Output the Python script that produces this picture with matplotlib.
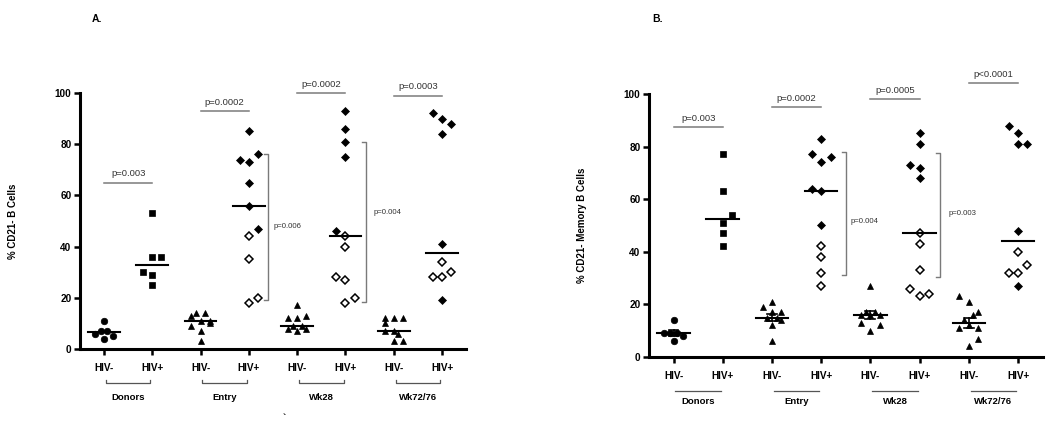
import numpy as np
import matplotlib
matplotlib.use("Agg")
import matplotlib.pyplot as plt
from matplotlib.transforms import blended_transform_factory

plt.rcParams['font.family'] = ['Liberation Sans', 'DejaVu Sans']

# ---------------- data ----------------
tick_labels = ["HIV-", "HIV+", "HIV-", "HIV+", "HIV-", "HIV+", "HIV-", "HIV+"]
group_labels = ["Donors", "Entry", "Wk28", "Wk72/76"]

# Panel A: % CD21- B cells
A_donor_neg = [11, 6, 7, 7, 4, 5]
A_donor_neg_jit = [0, -1, -0.35, 0.35, 0, 1]
A_donor_pos = [53, 36, 36, 30, 29, 25]
A_donor_pos_jit = [0, 0, 1, -1, 0, 0]
A_entry_neg = [13, 14, 14, 9, 11, 10, 11, 7, 3]
A_entry_neg_jit = [-1, -0.5, 0.5, -1, 0, 1, 1, 0, 0]
A_entry_pos = [85, 76, 74, 73, 65, 56, 47, 44, 35, 18, 20]
A_entry_pos_fill = [1, 1, 1, 1, 1, 1, 1, 0, 0, 0, 0]
A_entry_pos_jit = [0, 1, -1, 0, 0, 0, 1, 0, 0, 0, 1]
A_wk28_neg = [17, 12, 12, 13, 8, 9, 9, 8, 7]
A_wk28_neg_jit = [0, -1, 0, 1, -1, -0.5, 0.5, 1, 0]
A_wk28_pos = [93, 86, 81, 75, 46, 44, 40, 28, 27, 18, 20]
A_wk28_pos_fill = [1, 1, 1, 1, 1, 0, 0, 0, 0, 0, 0]
A_wk28_pos_jit = [0, 0, 0, 0, -1, 0, 0, -1, 0, 0, 1]
A_wk72_neg = [12, 10, 12, 12, 7, 7, 6, 3, 3]
A_wk72_neg_jit = [-1, -1, 0, 1, -1, 0, 0.5, 0, 1]
A_wk72_pos = [92, 90, 88, 84, 41, 34, 30, 28, 28, 19]
A_wk72_pos_fill = [1, 1, 1, 1, 1, 0, 0, 0, 0, 1]
A_wk72_pos_jit = [-1, 0, 1, 0, 0, 0, 1, -1, 0, 0]

A_p_labels = ["p=0.003", "p=0.0002", "p=0.0002", "p=0.0003"]
A_p_heights = [65, 93, 100, 99]
A_inner_labels = ["p=0.006", "p=0.004"]
A_inner_ranges = [(19, 76), (18.5, 81)]

# Panel B: % CD21- memory B cells
B_donor_neg = [14, 9, 9, 9, 8, 6]
B_donor_neg_jit = [0, -1, -0.35, 0.35, 1, 0]
B_donor_pos = [77, 63, 54, 51, 47, 42]
B_donor_pos_jit = [0, 0, 1, 0, 0, 0]
B_entry_neg = [21, 19, 17, 17, 15, 15, 14, 12, 6]
B_entry_neg_jit = [0, -1, 0, 1, -0.5, 0.5, 1, 0, 0]
B_entry_pos = [83, 77, 76, 74, 64, 63, 50, 42, 38, 32, 27]
B_entry_pos_fill = [1, 1, 1, 1, 1, 1, 1, 0, 0, 0, 0]
B_entry_pos_jit = [0, -1, 1, 0, -1, 0, 0, 0, 0, 0, 0]
B_wk28_neg = [27, 17, 17, 16, 16, 16, 13, 12, 10]
B_wk28_neg_jit = [0, -0.5, 0.5, -1, 0, 1, -1, 1, 0]
B_wk28_pos = [85, 81, 73, 72, 68, 47, 43, 33, 26, 23, 24]
B_wk28_pos_fill = [1, 1, 1, 1, 1, 0, 0, 0, 0, 0, 0]
B_wk28_pos_jit = [0, 0, -1, 0, 0, 0, 0, 0, -1, 0, 1]
B_wk72_neg = [23, 21, 17, 16, 14, 11, 12, 11, 7, 4]
B_wk72_neg_jit = [-1, 0, 1, 0.5, -0.5, -1, 0, 1, 1, 0]
B_wk72_pos = [88, 85, 81, 81, 48, 40, 32, 32, 35, 27]
B_wk72_pos_fill = [1, 1, 1, 1, 1, 0, 0, 0, 0, 1]
B_wk72_pos_jit = [-1, 0, 0, 1, 0, 0, -1, 0, 1, 0]

B_p_labels = ["p=0.003", "p=0.0002", "p=0.0005", "p<0.0001"]
B_p_heights = [87.5, 95, 98, 104]
B_inner_labels = ["p=0.004", "p=0.003"]
B_inner_ranges = [(31, 78), (30.5, 77.5)]

# ---------------- drawing ----------------
fig = plt.figure(figsize=(10.5, 4.28), dpi=100)
axA = fig.add_axes([0.076, 0.1846, 0.368, 0.5982])
axB = fig.add_axes([0.618, 0.166, 0.375, 0.6145])

JIT = 0.19
GREY = "#7a7a7a"


def scatter_group(ax, pos, vals, jit, marker, ms, fills=None, errbar=False):
    vals = np.asarray(vals, float)
    xs = pos + np.asarray(jit, float) * JIT
    if fills is None:
        fills = [1] * len(vals)
    for x, v, f in zip(xs, vals, fills):
        ax.plot(x, v, marker=marker, ms=ms, mec="black",
                mfc="black" if f else "white", mew=1.1 if not f else 0.5,
                ls="none", clip_on=False, zorder=3)
    med = np.median(vals)
    ax.plot([pos - 0.33, pos + 0.33], [med, med], color="black", lw=1.5,
            zorder=4, clip_on=False)
    if errbar:
        sem = np.std(vals, ddof=1) / np.sqrt(len(vals))
        ax.plot([pos, pos], [med - sem, med + sem], color="black", lw=1.2, zorder=4)
        for yy in (med - sem, med + sem):
            ax.plot([pos - 0.1, pos + 0.1], [yy, yy], color="black", lw=1.2, zorder=4)


def style_axes(ax, ylabel, labelx, bracket_y, group_y, bracket_ends):
    ax.set_xlim(0.5, 8.5)
    ax.set_ylim(0, 100)
    for s in ("top", "right"):
        ax.spines[s].set_visible(False)
    for s in ("left", "bottom"):
        ax.spines[s].set_linewidth(2.2)
    ax.set_yticks([0, 20, 40, 60, 80, 100])
    ax.set_xticks(range(1, 9))
    ax.set_xticklabels(tick_labels)
    ax.tick_params(axis="both", direction="out", length=4, width=1.8,
                   labelsize=7.2, pad=2)
    for lab in ax.get_xticklabels() + ax.get_yticklabels():
        lab.set_fontweight("bold")
    ax.tick_params(axis="x", pad=6)
    ax.set_ylabel(ylabel, fontsize=7, fontweight="bold")
    ax.yaxis.set_label_coords(labelx, 0.5)
    tr = blended_transform_factory(ax.transData, ax.transAxes)
    for i, g in enumerate(group_labels):
        x0 = 2 * i + 1 + 0.04
        x1 = 2 * i + 2 - 0.04
        if bracket_ends:
            ax.plot([x0, x0, x1, x1],
                    [bracket_y + 0.012, bracket_y, bracket_y, bracket_y + 0.012],
                    color="#555555", lw=0.9, transform=tr, clip_on=False)
        else:
            ax.plot([x0, x1], [bracket_y, bracket_y], color="#555555", lw=0.9,
                    transform=tr, clip_on=False)
        ax.text(2 * i + 1.5, group_y, g, transform=tr, ha="center", va="center",
                fontsize=6.8, fontweight="bold", clip_on=False)


def p_lines(ax, labels, heights):
    for i, (lab, h) in enumerate(zip(labels, heights)):
        x0, x1 = 2 * i + 1, 2 * i + 2
        ax.plot([x0, x1], [h, h], color=GREY, lw=1.1, clip_on=False)
        ax.text((x0 + x1) / 2, h + 1.6, lab, ha="center", va="bottom",
                fontsize=6.8, color="#333333", clip_on=False)


def inner_bracket(ax, x, rng, label, tx, ty):
    lo, hi = rng
    ax.plot([x - 0.08, x, x, x - 0.08], [lo, lo, hi, hi], color=GREY, lw=1.0,
            clip_on=False)
    ax.text(tx, ty, label, ha="left", va="center", fontsize=5.6, color="#333333")


# Panel A
scatter_group(axA, 1, A_donor_neg, A_donor_neg_jit, "o", 4.7)
scatter_group(axA, 2, A_donor_pos, A_donor_pos_jit, "s", 4.5)
scatter_group(axA, 3, A_entry_neg, A_entry_neg_jit, "^", 5.0)
scatter_group(axA, 4, A_entry_pos, A_entry_pos_jit, "D", 4.2, A_entry_pos_fill)
scatter_group(axA, 5, A_wk28_neg, A_wk28_neg_jit, "^", 5.0)
scatter_group(axA, 6, A_wk28_pos, A_wk28_pos_jit, "D", 4.2, A_wk28_pos_fill)
scatter_group(axA, 7, A_wk72_neg, A_wk72_neg_jit, "^", 5.0)
scatter_group(axA, 8, A_wk72_pos, A_wk72_pos_jit, "D", 4.2, A_wk72_pos_fill)
style_axes(axA, "% CD21- B Cells", -0.16, -0.133, -0.19, True)
p_lines(axA, A_p_labels, A_p_heights)
inner_bracket(axA, 4.4, A_inner_ranges[0], A_inner_labels[0], 4.52, 48)
inner_bracket(axA, 6.42, A_inner_ranges[1], A_inner_labels[1], 6.58, 53.4)

# Panel B
scatter_group(axB, 1, B_donor_neg, B_donor_neg_jit, "o", 4.7, errbar=True)
scatter_group(axB, 2, B_donor_pos, B_donor_pos_jit, "s", 4.5)
scatter_group(axB, 3, B_entry_neg, B_entry_neg_jit, "^", 5.0, errbar=True)
scatter_group(axB, 4, B_entry_pos, B_entry_pos_jit, "D", 4.2, B_entry_pos_fill)
scatter_group(axB, 5, B_wk28_neg, B_wk28_neg_jit, "^", 5.0, errbar=True)
scatter_group(axB, 6, B_wk28_pos, B_wk28_pos_jit, "D", 4.2, B_wk28_pos_fill)
scatter_group(axB, 7, B_wk72_neg, B_wk72_neg_jit, "^", 5.0, errbar=True)
scatter_group(axB, 8, B_wk72_pos, B_wk72_pos_jit, "D", 4.2, B_wk72_pos_fill)
style_axes(axB, "% CD21- Memory B Cells", -0.157, -0.129, -0.171, False)
p_lines(axB, B_p_labels, B_p_heights)
inner_bracket(axB, 4.51, B_inner_ranges[0], B_inner_labels[0], 4.6, 51.4)
inner_bracket(axB, 6.42, B_inner_ranges[1], B_inner_labels[1], 6.58, 54.7)

fig.text(0.092, 0.955, "A.", fontsize=7.5, fontweight="bold", ha="center", va="center")
fig.text(0.626, 0.955, "B.", fontsize=7.5, fontweight="bold", ha="center", va="center")
fig.text(0.271, 0.024, "`", fontsize=7, fontweight="bold", ha="center", va="center")

fig.savefig("out.png", dpi=100)
